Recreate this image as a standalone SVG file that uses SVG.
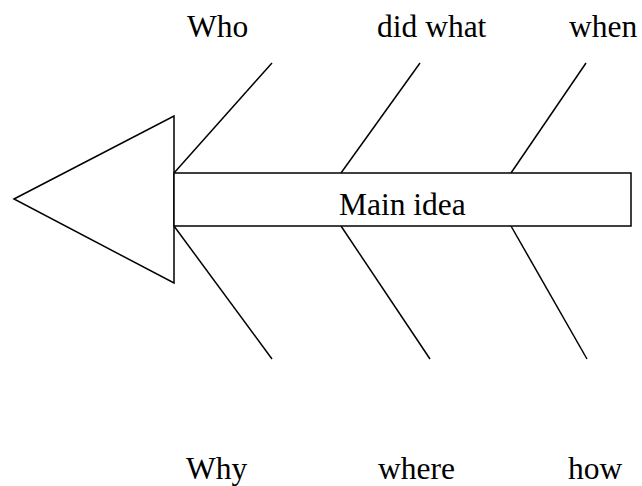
<svg xmlns="http://www.w3.org/2000/svg" width="642" height="486" viewBox="0 0 642 486">
<style>
.s{fill:#fff;stroke:#000;stroke-width:1.5}
.l{stroke:#000;stroke-width:1.5;fill:none}
text{font-family:"Liberation Serif","Times New Roman",serif;font-size:31.5px;fill:#000}
</style>
<rect width="642" height="486" fill="#fff"/>
<g id="connectors">
<line class="l" x1="174" y1="173" x2="272" y2="63"/>
<line class="l" x1="341" y1="173" x2="420" y2="63"/>
<line class="l" x1="511" y1="173" x2="586" y2="63"/>
<line class="l" x1="174" y1="226" x2="272" y2="359"/>
<line class="l" x1="341" y1="226" x2="430" y2="359"/>
<line class="l" x1="511" y1="226" x2="587" y2="359"/>
</g>
<g id="head"><polygon class="s" points="14,199 174,116 174,283"/></g>
<g id="main"><rect class="s" x="174" y="173" width="457" height="53"/><text x="339" y="215">Main idea</text></g>
<g id="who"><text x="187" y="37">Who</text></g>
<g id="didwhat"><text x="377" y="37">did what</text></g>
<g id="when"><text x="569" y="37">when</text></g>
<g id="why"><text x="186" y="479">Why</text></g>
<g id="where"><text x="378" y="479">where</text></g>
<g id="how"><text x="568" y="479">how</text></g>
</svg>
